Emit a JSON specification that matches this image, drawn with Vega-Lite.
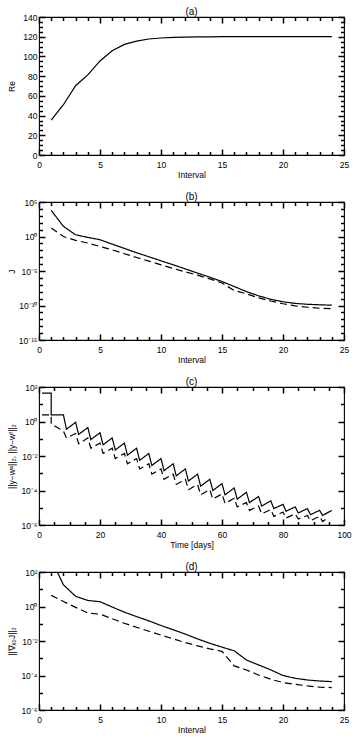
{
  "$schema": "https://vega.github.io/schema/vega-lite/v6.json",
  "background": "white",
  "padding": {"top": 6, "left": 6, "right": 5, "bottom": 5},
  "spacing": 47,
  "bounds": "flush",
  "config": {
    "font": "Liberation Sans",
    "view": {"stroke": "black", "strokeWidth": 1.1},
    "axis": {"grid": false, "domain": false, "ticks": true, "tickColor": "black", "tickWidth": 1.5, "tickRound": true, "labelColor": "black", "labelFontSize": 8.5, "labelFont": "Liberation Sans", "titleFont": "Liberation Sans", "titleFontSize": 8.5, "titleFontWeight": "normal", "titleColor": "black", "labelFlush": false, "labelOverlap": false},
    "title": {"fontSize": 10, "fontWeight": "normal", "font": "Liberation Sans", "offset": -4, "anchor": "middle", "frame": "group", "color": "black"}
  },
  "datasets": {
    "a": [
      {"t": 1, "v": 35.3}, {"t": 2, "v": 51}, {"t": 3, "v": 70.3}, {"t": 4, "v": 81.3}, {"t": 5, "v": 95.4}, {"t": 6, "v": 105.7}, {"t": 7, "v": 112.2}, {"t": 8, "v": 115.6}, {"t": 9, "v": 117.7}, {"t": 10, "v": 118.7}, {"t": 11, "v": 119.3}, {"t": 12, "v": 119.6}, {"t": 13, "v": 119.8}, {"t": 14, "v": 119.9}, {"t": 15, "v": 120}, {"t": 16, "v": 120}, {"t": 17, "v": 120}, {"t": 18, "v": 120}, {"t": 19, "v": 120}, {"t": 20, "v": 120}, {"t": 21, "v": 120}, {"t": 22, "v": 120}, {"t": 23, "v": 120}, {"t": 24, "v": 120}
    ],
    "b": [
      {"t": 1, "v": 6.2e3, "s": "solid"}, {"t": 2, "v": 29.5, "s": "solid"}, {"t": 3, "v": 1.78, "s": "solid"}, {"t": 4, "v": 0.74, "s": "solid"}, {"t": 5, "v": 0.34, "s": "solid"}, {"t": 6, "v": 7.9e-2, "s": "solid"}, {"t": 7, "v": 1.86e-2, "s": "solid"}, {"t": 8, "v": 4.4e-3, "s": "solid"}, {"t": 9, "v": 1.15e-3, "s": "solid"}, {"t": 10, "v": 3.0e-4, "s": "solid"}, {"t": 11, "v": 7.9e-5, "s": "solid"}, {"t": 12, "v": 2.0e-5, "s": "solid"}, {"t": 13, "v": 4.9e-6, "s": "solid"}, {"t": 14, "v": 1.26e-6, "s": "solid"}, {"t": 15, "v": 2.95e-7, "s": "solid"}, {"t": 16, "v": 5.6e-8, "s": "solid"}, {"t": 17, "v": 1.05e-8, "s": "solid"}, {"t": 18, "v": 2.5e-9, "s": "solid"}, {"t": 19, "v": 7.9e-10, "s": "solid"}, {"t": 20, "v": 3.5e-10, "s": "solid"}, {"t": 21, "v": 2.0e-10, "s": "solid"}, {"t": 22, "v": 1.5e-10, "s": "solid"}, {"t": 23, "v": 1.26e-10, "s": "solid"}, {"t": 24, "v": 1.12e-10, "s": "solid"},
      {"t": 1, "v": 16.6, "s": "dash"}, {"t": 2, "v": 1.0, "s": "dash"}, {"t": 3, "v": 0.28, "s": "dash"}, {"t": 4, "v": 0.112, "s": "dash"}, {"t": 5, "v": 3.6e-2, "s": "dash"}, {"t": 6, "v": 1.17e-2, "s": "dash"}, {"t": 7, "v": 3.2e-3, "s": "dash"}, {"t": 8, "v": 9.1e-4, "s": "dash"}, {"t": 9, "v": 2.7e-4, "s": "dash"}, {"t": 10, "v": 7.9e-5, "s": "dash"}, {"t": 11, "v": 2.3e-5, "s": "dash"}, {"t": 12, "v": 7.6e-6, "s": "dash"}, {"t": 13, "v": 2.5e-6, "s": "dash"}, {"t": 14, "v": 7.1e-7, "s": "dash"}, {"t": 15, "v": 1.8e-7, "s": "dash"}, {"t": 16, "v": 1.48e-8, "s": "dash"}, {"t": 17, "v": 5.0e-9, "s": "dash"}, {"t": 18, "v": 1.26e-9, "s": "dash"}, {"t": 19, "v": 4.5e-10, "s": "dash"}, {"t": 20, "v": 1.78e-10, "s": "dash"}, {"t": 21, "v": 8.9e-11, "s": "dash"}, {"t": 22, "v": 5.6e-11, "s": "dash"}, {"t": 23, "v": 4.0e-11, "s": "dash"}, {"t": 24, "v": 3.5e-11, "s": "dash"}
    ],
    "c": [
      {"i": 0, "t": 1, "v": 44.7, "s": "solid"}, {"i": 1, "t": 4, "v": 44.7, "s": "solid"}, {"i": 2, "t": 4, "v": 2.45, "s": "solid"}, {"i": 3, "t": 8, "v": 2.45, "s": "solid"}, {"i": 4, "t": 9, "v": 0.355, "s": "solid"}, {"i": 5, "t": 12, "v": 0.891, "s": "solid"}, {"i": 6, "t": 13, "v": 0.178, "s": "solid"}, {"i": 7, "t": 16, "v": 0.447, "s": "solid"}, {"i": 8, "t": 17, "v": 0.0891, "s": "solid"}, {"i": 9, "t": 20, "v": 0.224, "s": "solid"}, {"i": 10, "t": 21, "v": 0.0447, "s": "solid"}, {"i": 11, "t": 24, "v": 0.112, "s": "solid"}, {"i": 12, "t": 25, "v": 0.0224, "s": "solid"}, {"i": 13, "t": 28, "v": 0.0562, "s": "solid"}, {"i": 14, "t": 29, "v": 0.0112, "s": "solid"}, {"i": 15, "t": 32, "v": 0.0282, "s": "solid"}, {"i": 16, "t": 33, "v": 0.00562, "s": "solid"}, {"i": 17, "t": 36, "v": 0.0141, "s": "solid"}, {"i": 18, "t": 37, "v": 0.00282, "s": "solid"}, {"i": 19, "t": 40, "v": 0.00708, "s": "solid"}, {"i": 20, "t": 41, "v": 0.00141, "s": "solid"}, {"i": 21, "t": 44, "v": 0.00355, "s": "solid"}, {"i": 22, "t": 45, "v": 0.000708, "s": "solid"}, {"i": 23, "t": 48, "v": 0.00178, "s": "solid"}, {"i": 24, "t": 49, "v": 0.000355, "s": "solid"}, {"i": 25, "t": 52, "v": 0.000891, "s": "solid"}, {"i": 26, "t": 53, "v": 0.000178, "s": "solid"}, {"i": 27, "t": 56, "v": 0.000447, "s": "solid"}, {"i": 28, "t": 57, "v": 0.0001, "s": "solid"}, {"i": 29, "t": 60, "v": 0.000251, "s": "solid"}, {"i": 30, "t": 61, "v": 5.62e-5, "s": "solid"}, {"i": 31, "t": 64, "v": 0.000141, "s": "solid"}, {"i": 32, "t": 65, "v": 3.16e-5, "s": "solid"}, {"i": 33, "t": 68, "v": 7.94e-5, "s": "solid"}, {"i": 34, "t": 69, "v": 2.0e-5, "s": "solid"}, {"i": 35, "t": 72, "v": 4.47e-5, "s": "solid"}, {"i": 36, "t": 73, "v": 1.26e-5, "s": "solid"}, {"i": 37, "t": 76, "v": 2.51e-5, "s": "solid"}, {"i": 38, "t": 77, "v": 8.91e-6, "s": "solid"}, {"i": 39, "t": 80, "v": 1.58e-5, "s": "solid"}, {"i": 40, "t": 81, "v": 6.31e-6, "s": "solid"}, {"i": 41, "t": 84, "v": 1.12e-5, "s": "solid"}, {"i": 42, "t": 85, "v": 5.01e-6, "s": "solid"}, {"i": 43, "t": 88, "v": 8.91e-6, "s": "solid"}, {"i": 44, "t": 89, "v": 3.98e-6, "s": "solid"}, {"i": 45, "t": 92, "v": 7.08e-6, "s": "solid"}, {"i": 46, "t": 93, "v": 3.55e-6, "s": "solid"}, {"i": 47, "t": 96, "v": 7.08e-6, "s": "solid"},
      {"i": 0, "t": 1, "v": 2.45, "s": "dash"}, {"i": 1, "t": 4, "v": 2.45, "s": "dash"}, {"i": 2, "t": 4, "v": 0.708, "s": "dash"}, {"i": 3, "t": 8, "v": 0.282, "s": "dash"}, {"i": 4, "t": 9, "v": 0.112, "s": "dash"}, {"i": 5, "t": 12, "v": 0.2, "s": "dash"}, {"i": 6, "t": 13, "v": 0.0501, "s": "dash"}, {"i": 7, "t": 16, "v": 0.112, "s": "dash"}, {"i": 8, "t": 17, "v": 0.0282, "s": "dash"}, {"i": 9, "t": 20, "v": 0.0562, "s": "dash"}, {"i": 10, "t": 21, "v": 0.0141, "s": "dash"}, {"i": 11, "t": 24, "v": 0.0282, "s": "dash"}, {"i": 12, "t": 25, "v": 0.00708, "s": "dash"}, {"i": 13, "t": 28, "v": 0.0141, "s": "dash"}, {"i": 14, "t": 29, "v": 0.00355, "s": "dash"}, {"i": 15, "t": 32, "v": 0.00708, "s": "dash"}, {"i": 16, "t": 33, "v": 0.00178, "s": "dash"}, {"i": 17, "t": 36, "v": 0.00355, "s": "dash"}, {"i": 18, "t": 37, "v": 0.000891, "s": "dash"}, {"i": 19, "t": 40, "v": 0.00178, "s": "dash"}, {"i": 20, "t": 41, "v": 0.000447, "s": "dash"}, {"i": 21, "t": 44, "v": 0.000891, "s": "dash"}, {"i": 22, "t": 45, "v": 0.000224, "s": "dash"}, {"i": 23, "t": 48, "v": 0.000447, "s": "dash"}, {"i": 24, "t": 49, "v": 0.000112, "s": "dash"}, {"i": 25, "t": 52, "v": 0.000224, "s": "dash"}, {"i": 26, "t": 53, "v": 5.62e-5, "s": "dash"}, {"i": 27, "t": 56, "v": 0.000112, "s": "dash"}, {"i": 28, "t": 57, "v": 3.16e-5, "s": "dash"}, {"i": 29, "t": 60, "v": 6.31e-5, "s": "dash"}, {"i": 30, "t": 61, "v": 1.78e-5, "s": "dash"}, {"i": 31, "t": 64, "v": 3.55e-5, "s": "dash"}, {"i": 32, "t": 65, "v": 1.12e-5, "s": "dash"}, {"i": 33, "t": 68, "v": 2.0e-5, "s": "dash"}, {"i": 34, "t": 69, "v": 7.08e-6, "s": "dash"}, {"i": 35, "t": 72, "v": 1.26e-5, "s": "dash"}, {"i": 36, "t": 73, "v": 4.47e-6, "s": "dash"}, {"i": 37, "t": 76, "v": 7.94e-6, "s": "dash"}, {"i": 38, "t": 77, "v": 3.16e-6, "s": "dash"}, {"i": 39, "t": 80, "v": 5.62e-6, "s": "dash"}, {"i": 40, "t": 81, "v": 2.51e-6, "s": "dash"}, {"i": 41, "t": 84, "v": 4.47e-6, "s": "dash"}, {"i": 42, "t": 85, "v": 2.24e-6, "s": "dash"}, {"i": 43, "t": 88, "v": 3.55e-6, "s": "dash"}, {"i": 44, "t": 89, "v": 1.78e-6, "s": "dash"}, {"i": 45, "t": 92, "v": 3.16e-6, "s": "dash"}, {"i": 46, "t": 93, "v": 1.58e-6, "s": "dash"}, {"i": 47, "t": 95, "v": 2.82e-6, "s": "dash"}
    ],
    "d": [
      {"t": 1.5, "v": 100, "s": "solid"}, {"t": 2, "v": 18.2, "s": "solid"}, {"t": 3, "v": 3.9, "s": "solid"}, {"t": 4, "v": 2.24, "s": "solid"}, {"t": 5, "v": 1.9, "s": "solid"}, {"t": 6, "v": 0.93, "s": "solid"}, {"t": 7, "v": 0.47, "s": "solid"}, {"t": 8, "v": 0.26, "s": "solid"}, {"t": 9, "v": 0.148, "s": "solid"}, {"t": 10, "v": 7.9e-2, "s": "solid"}, {"t": 11, "v": 4.5e-2, "s": "solid"}, {"t": 12, "v": 2.5e-2, "s": "solid"}, {"t": 13, "v": 1.32e-2, "s": "solid"}, {"t": 14, "v": 7.4e-3, "s": "solid"}, {"t": 15, "v": 4.4e-3, "s": "solid"}, {"t": 16, "v": 2.7e-3, "s": "solid"}, {"t": 17, "v": 7.9e-4, "s": "solid"}, {"t": 18, "v": 4.1e-4, "s": "solid"}, {"t": 19, "v": 2.1e-4, "s": "solid"}, {"t": 20, "v": 1.0e-4, "s": "solid"}, {"t": 21, "v": 6.9e-5, "s": "solid"}, {"t": 22, "v": 5.5e-5, "s": "solid"}, {"t": 23, "v": 4.8e-5, "s": "solid"}, {"t": 24, "v": 4.4e-5, "s": "solid"},
      {"t": 1, "v": 4.4, "s": "dash"}, {"t": 2, "v": 1.95, "s": "dash"}, {"t": 3, "v": 0.89, "s": "dash"}, {"t": 4, "v": 0.42, "s": "dash"}, {"t": 5, "v": 0.36, "s": "dash"}, {"t": 6, "v": 0.195, "s": "dash"}, {"t": 7, "v": 0.107, "s": "dash"}, {"t": 8, "v": 6.3e-2, "s": "dash"}, {"t": 9, "v": 3.7e-2, "s": "dash"}, {"t": 10, "v": 2.2e-2, "s": "dash"}, {"t": 11, "v": 1.32e-2, "s": "dash"}, {"t": 12, "v": 8.1e-3, "s": "dash"}, {"t": 13, "v": 5.2e-3, "s": "dash"}, {"t": 14, "v": 3.5e-3, "s": "dash"}, {"t": 15, "v": 2.5e-3, "s": "dash"}, {"t": 16, "v": 3.6e-4, "s": "dash"}, {"t": 17, "v": 2.1e-4, "s": "dash"}, {"t": 18, "v": 1.07e-4, "s": "dash"}, {"t": 19, "v": 6.0e-5, "s": "dash"}, {"t": 20, "v": 3.9e-5, "s": "dash"}, {"t": 21, "v": 3.1e-5, "s": "dash"}, {"t": 22, "v": 2.5e-5, "s": "dash"}, {"t": 23, "v": 2.1e-5, "s": "dash"}, {"t": 24, "v": 2.0e-5, "s": "dash"}
    ]
  },
  "vconcat": [
    {
      "title": "(a)",
      "width": 305, "height": 138,
      "data": {"name": "a"},
      "resolve": {"axis": {"x": "independent", "y": "independent"}},
      "layer": [
        {"mark": {"type": "line", "color": "black", "strokeWidth": 1.2},
         "encoding": {
           "x": {"field": "t", "type": "quantitative", "scale": {"domain": [0, 25], "nice": false, "zero": false}, "axis": {"orient": "bottom", "values": [0, 5, 10, 15, 20, 25], "offset": -6, "tickSize": 6, "labelPadding": 5.5, "title": "Interval", "titleY": 25, "titleBaseline": "middle"}},
           "y": {"field": "v", "type": "quantitative", "scale": {"domain": [0, 140], "nice": false, "zero": false}, "axis": {"orient": "left", "values": [0, 20, 40, 60, 80, 100, 120, 140], "offset": -6, "tickSize": 6, "labelPadding": 2, "title": "Re", "titleX": -34, "titleBaseline": "middle"}}
         }},
        {"mark": {"type": "line", "opacity": 0},
         "encoding": {
           "x": {"field": "t", "type": "quantitative", "scale": {"domain": [0, 25], "nice": false, "zero": false}, "axis": {"orient": "bottom", "values": [1, 2, 3, 4, 6, 7, 8, 9, 11, 12, 13, 14, 16, 17, 18, 19, 21, 22, 23, 24], "offset": -3.5, "tickSize": 3.5, "labels": false, "title": null}},
           "y": {"field": "v", "type": "quantitative", "scale": {"domain": [0, 140], "nice": false, "zero": false}, "axis": {"orient": "left", "values": [5, 10, 15, 25, 30, 35, 45, 50, 55, 65, 70, 75, 85, 90, 95, 105, 110, 115, 125, 130, 135], "offset": -3.5, "tickSize": 3.5, "labels": false, "title": null}}
         }},
        {"mark": {"type": "line", "opacity": 0},
         "encoding": {
           "x": {"field": "t", "type": "quantitative", "scale": {"domain": [0, 25], "nice": false, "zero": false}, "axis": {"orient": "top", "values": [0, 5, 10, 15, 20, 25], "offset": -6, "tickSize": 6, "labels": false, "title": null}},
           "y": {"field": "v", "type": "quantitative", "scale": {"domain": [0, 140], "nice": false, "zero": false}, "axis": {"orient": "right", "values": [0, 20, 40, 60, 80, 100, 120, 140], "offset": -6, "tickSize": 6, "labels": false, "title": null}}
         }},
        {"mark": {"type": "line", "opacity": 0},
         "encoding": {
           "x": {"field": "t", "type": "quantitative", "scale": {"domain": [0, 25], "nice": false, "zero": false}, "axis": {"orient": "top", "values": [1, 2, 3, 4, 6, 7, 8, 9, 11, 12, 13, 14, 16, 17, 18, 19, 21, 22, 23, 24], "offset": -3.5, "tickSize": 3.5, "labels": false, "title": null}},
           "y": {"field": "v", "type": "quantitative", "scale": {"domain": [0, 140], "nice": false, "zero": false}, "axis": {"orient": "right", "values": [5, 10, 15, 25, 30, 35, 45, 50, 55, 65, 70, 75, 85, 90, 95, 105, 110, 115, 125, 130, 135], "offset": -3.5, "tickSize": 3.5, "labels": false, "title": null}}
         }}
      ]
    },
    {
      "title": "(b)",
      "width": 305, "height": 138,
      "data": {"name": "b"},
      "resolve": {"axis": {"x": "independent", "y": "independent"}},
      "layer": [
        {"mark": {"type": "line", "color": "black", "strokeWidth": 1.2},
         "encoding": {
           "x": {"field": "t", "type": "quantitative", "scale": {"domain": [0, 25], "nice": false, "zero": false}, "axis": {"orient": "bottom", "values": [0, 5, 10, 15, 20, 25], "offset": -6, "tickSize": 6, "labelPadding": 5.5, "title": "Interval", "titleY": 25, "titleBaseline": "middle"}},
           "y": {"field": "v", "type": "quantitative", "scale": {"type": "log", "domain": [1e-15, 1e5], "nice": false}, "axis": {"orient": "left", "values": [1e-15, 1e-10, 1e-5, 1, 1e5], "labelExpr": "datum.value < 1e-12 ? '10⁻¹⁵' : datum.value < 1e-7 ? '10⁻¹⁰' : datum.value < 1e-2 ? '10⁻⁵' : datum.value < 10 ? '10⁰' : '10⁵'", "offset": -6, "tickSize": 6, "labelPadding": 2, "title": "J", "titleX": -34, "titleBaseline": "middle"}},
           "strokeDash": {"field": "s", "type": "nominal", "scale": {"domain": ["solid", "dash"], "range": [[1, 0], [7, 4]]}, "legend": null}
         }},
        {"mark": {"type": "line", "opacity": 0},
         "encoding": {
           "x": {"field": "t", "type": "quantitative", "scale": {"domain": [0, 25], "nice": false, "zero": false}, "axis": {"orient": "bottom", "values": [1, 2, 3, 4, 6, 7, 8, 9, 11, 12, 13, 14, 16, 17, 18, 19, 21, 22, 23, 24], "offset": -3.5, "tickSize": 3.5, "labels": false, "title": null}},
           "y": {"field": "v", "type": "quantitative", "scale": {"type": "log", "domain": [1e-15, 1e5], "nice": false}, "axis": {"orient": "left", "values": [1e-14, 1e-13, 1e-12, 1e-11, 1e-9, 1e-8, 1e-7, 1e-6, 1e-4, 1e-3, 1e-2, 1e-1, 10, 100, 1000, 10000], "offset": -3.5, "tickSize": 3.5, "labels": false, "title": null}}
         }},
        {"mark": {"type": "line", "opacity": 0},
         "encoding": {
           "x": {"field": "t", "type": "quantitative", "scale": {"domain": [0, 25], "nice": false, "zero": false}, "axis": {"orient": "top", "values": [0, 5, 10, 15, 20, 25], "offset": -6, "tickSize": 6, "labels": false, "title": null}},
           "y": {"field": "v", "type": "quantitative", "scale": {"type": "log", "domain": [1e-15, 1e5], "nice": false}, "axis": {"orient": "right", "values": [1e-15, 1e-10, 1e-5, 1, 1e5], "offset": -6, "tickSize": 6, "labels": false, "title": null}}
         }},
        {"mark": {"type": "line", "opacity": 0},
         "encoding": {
           "x": {"field": "t", "type": "quantitative", "scale": {"domain": [0, 25], "nice": false, "zero": false}, "axis": {"orient": "top", "values": [1, 2, 3, 4, 6, 7, 8, 9, 11, 12, 13, 14, 16, 17, 18, 19, 21, 22, 23, 24], "offset": -3.5, "tickSize": 3.5, "labels": false, "title": null}},
           "y": {"field": "v", "type": "quantitative", "scale": {"type": "log", "domain": [1e-15, 1e5], "nice": false}, "axis": {"orient": "right", "values": [1e-14, 1e-13, 1e-12, 1e-11, 1e-9, 1e-8, 1e-7, 1e-6, 1e-4, 1e-3, 1e-2, 1e-1, 10, 100, 1000, 10000], "offset": -3.5, "tickSize": 3.5, "labels": false, "title": null}}
         }}
      ]
    },
    {
      "title": "(c)",
      "width": 305, "height": 138,
      "data": {"name": "c"},
      "resolve": {"axis": {"x": "independent", "y": "independent"}},
      "layer": [
        {"mark": {"type": "line", "color": "black", "strokeWidth": 1.2},
         "encoding": {
           "x": {"field": "t", "type": "quantitative", "scale": {"domain": [0, 100], "nice": false, "zero": false}, "axis": {"orient": "bottom", "values": [0, 20, 40, 60, 80, 100], "offset": -6, "tickSize": 6, "labelPadding": 5.5, "title": "Time [days]", "titleY": 25, "titleBaseline": "middle"}},
           "y": {"field": "v", "type": "quantitative", "scale": {"type": "log", "domain": [1e-6, 100], "nice": false}, "axis": {"orient": "left", "values": [1e-6, 1e-4, 1e-2, 1, 100], "labelExpr": "datum.value < 1e-5 ? '10⁻⁶' : datum.value < 1e-3 ? '10⁻⁴' : datum.value < 0.1 ? '10⁻²' : datum.value < 10 ? '10⁰' : '10²'", "offset": -6, "tickSize": 6, "labelPadding": 2, "title": "||y−wᵃ||₂, ||y−wᶠ||₂", "titleX": -34, "titleBaseline": "middle"}},
           "strokeDash": {"field": "s", "type": "nominal", "scale": {"domain": ["solid", "dash"], "range": [[1, 0], [7, 4]]}, "legend": null},
           "order": {"field": "i", "type": "quantitative"}
         }},
        {"mark": {"type": "line", "opacity": 0},
         "encoding": {
           "x": {"field": "t", "type": "quantitative", "scale": {"domain": [0, 100], "nice": false, "zero": false}, "axis": {"orient": "bottom", "values": [5, 10, 15, 25, 30, 35, 45, 50, 55, 65, 70, 75, 85, 90, 95], "offset": -3.5, "tickSize": 3.5, "labels": false, "title": null}},
           "y": {"field": "v", "type": "quantitative", "scale": {"type": "log", "domain": [1e-6, 100], "nice": false}, "axis": {"orient": "left", "values": [1e-5, 1e-3, 1e-1, 10], "offset": -3.5, "tickSize": 3.5, "labels": false, "title": null}}
         }},
        {"mark": {"type": "line", "opacity": 0},
         "encoding": {
           "x": {"field": "t", "type": "quantitative", "scale": {"domain": [0, 100], "nice": false, "zero": false}, "axis": {"orient": "top", "values": [0, 20, 40, 60, 80, 100], "offset": -6, "tickSize": 6, "labels": false, "title": null}},
           "y": {"field": "v", "type": "quantitative", "scale": {"type": "log", "domain": [1e-6, 100], "nice": false}, "axis": {"orient": "right", "values": [1e-6, 1e-4, 1e-2, 1, 100], "offset": -6, "tickSize": 6, "labels": false, "title": null}}
         }},
        {"mark": {"type": "line", "opacity": 0},
         "encoding": {
           "x": {"field": "t", "type": "quantitative", "scale": {"domain": [0, 100], "nice": false, "zero": false}, "axis": {"orient": "top", "values": [5, 10, 15, 25, 30, 35, 45, 50, 55, 65, 70, 75, 85, 90, 95], "offset": -3.5, "tickSize": 3.5, "labels": false, "title": null}},
           "y": {"field": "v", "type": "quantitative", "scale": {"type": "log", "domain": [1e-6, 100], "nice": false}, "axis": {"orient": "right", "values": [1e-5, 1e-3, 1e-1, 10], "offset": -3.5, "tickSize": 3.5, "labels": false, "title": null}}
         }}
      ]
    },
    {
      "title": "(d)",
      "width": 305, "height": 138,
      "data": {"name": "d"},
      "resolve": {"axis": {"x": "independent", "y": "independent"}},
      "layer": [
        {"mark": {"type": "line", "color": "black", "strokeWidth": 1.2},
         "encoding": {
           "x": {"field": "t", "type": "quantitative", "scale": {"domain": [0, 25], "nice": false, "zero": false}, "axis": {"orient": "bottom", "values": [0, 5, 10, 15, 20, 25], "offset": -6, "tickSize": 6, "labelPadding": 5.5, "title": "Interval", "titleY": 25, "titleBaseline": "middle"}},
           "y": {"field": "v", "type": "quantitative", "scale": {"type": "log", "domain": [1e-6, 100], "nice": false}, "axis": {"orient": "left", "values": [1e-6, 1e-4, 1e-2, 1, 100], "labelExpr": "datum.value < 1e-5 ? '10⁻⁶' : datum.value < 1e-3 ? '10⁻⁴' : datum.value < 0.1 ? '10⁻²' : datum.value < 10 ? '10⁰' : '10²'", "offset": -6, "tickSize": 6, "labelPadding": 2, "title": "||∇ₓ₀J||₂", "titleX": -34, "titleBaseline": "middle"}},
           "strokeDash": {"field": "s", "type": "nominal", "scale": {"domain": ["solid", "dash"], "range": [[1, 0], [7, 4]]}, "legend": null}
         }},
        {"mark": {"type": "line", "opacity": 0},
         "encoding": {
           "x": {"field": "t", "type": "quantitative", "scale": {"domain": [0, 25], "nice": false, "zero": false}, "axis": {"orient": "bottom", "values": [1, 2, 3, 4, 6, 7, 8, 9, 11, 12, 13, 14, 16, 17, 18, 19, 21, 22, 23, 24], "offset": -3.5, "tickSize": 3.5, "labels": false, "title": null}},
           "y": {"field": "v", "type": "quantitative", "scale": {"type": "log", "domain": [1e-6, 100], "nice": false}, "axis": {"orient": "left", "values": [1e-5, 1e-3, 1e-1, 10], "offset": -3.5, "tickSize": 3.5, "labels": false, "title": null}}
         }},
        {"mark": {"type": "line", "opacity": 0},
         "encoding": {
           "x": {"field": "t", "type": "quantitative", "scale": {"domain": [0, 25], "nice": false, "zero": false}, "axis": {"orient": "top", "values": [0, 5, 10, 15, 20, 25], "offset": -6, "tickSize": 6, "labels": false, "title": null}},
           "y": {"field": "v", "type": "quantitative", "scale": {"type": "log", "domain": [1e-6, 100], "nice": false}, "axis": {"orient": "right", "values": [1e-6, 1e-4, 1e-2, 1, 100], "offset": -6, "tickSize": 6, "labels": false, "title": null}}
         }},
        {"mark": {"type": "line", "opacity": 0},
         "encoding": {
           "x": {"field": "t", "type": "quantitative", "scale": {"domain": [0, 25], "nice": false, "zero": false}, "axis": {"orient": "top", "values": [1, 2, 3, 4, 6, 7, 8, 9, 11, 12, 13, 14, 16, 17, 18, 19, 21, 22, 23, 24], "offset": -3.5, "tickSize": 3.5, "labels": false, "title": null}},
           "y": {"field": "v", "type": "quantitative", "scale": {"type": "log", "domain": [1e-6, 100], "nice": false}, "axis": {"orient": "right", "values": [1e-5, 1e-3, 1e-1, 10], "offset": -3.5, "tickSize": 3.5, "labels": false, "title": null}}
         }}
      ]
    }
  ]
}
